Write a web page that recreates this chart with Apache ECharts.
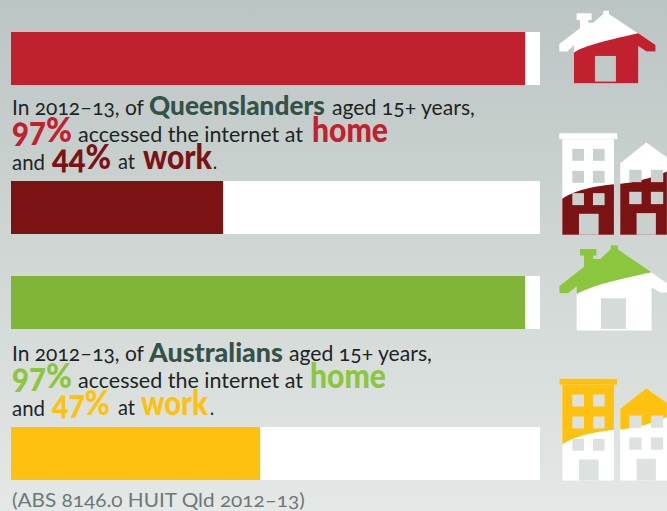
<!DOCTYPE html>
<html><head><meta charset="utf-8">
<style>html,body{margin:0;padding:0;background:#ccc}#c{width:667px;height:511px}
svg text{font-feature-settings:"onum" 1 !important}</style>
<script src="https://cdn.jsdelivr.net/npm/echarts@6/dist/echarts.min.js"></script>
</head><body><div id="c"></div>
<script>
// Bar lengths as drawn in the picture (the dark "work" bar is drawn at about 40 although its caption says 44%)
var categories = ['Queensland home', 'Queensland work', 'Australia home', 'Australia work'];
var values = [97.2, 40.1, 97.2, 47.1];
var barColors = ['#c1202f', '#7b1214', '#80b53a', '#fec10f'];
var barTops = [32, 181, 276, 427];

var FONT = 'Lato';
var INK = '#1f2423', HEAD = '#355148', RED = '#c1202f', MAR = '#7b1214', GRN = '#8cc63f', YEL = '#fec10f';
// text, x, baseline, size, weight, colour, target width
var texts = [
 ['In 2012–13, of', 12, 115, 21.5, 400, INK, 132],
 ['Queenslanders', 149, 115, 27, 900, HEAD, 176],
 ['aged 15+ years,', 332, 115, 21.5, 400, INK, 143],
 ['97%', 12, 142, 34, 900, RED, 60],
 ['accessed the internet at', 78, 142, 21.5, 400, INK, 225],
 ['home', 312, 142, 35, 900, RED, 76],
 ['and', 12, 169, 21.5, 400, INK, 33],
 ['44%', 52, 169, 34, 900, MAR, 59],
 ['at', 118, 169, 21.5, 400, INK, 17],
 ['work', 143, 169, 35, 900, MAR, 69],
 ['.', 213, 169, 21.5, 400, INK, 4],
 ['In 2012–13, of', 12, 361, 21.5, 400, INK, 132],
 ['Australians', 149, 361, 27, 900, HEAD, 134],
 ['aged 15+ years,', 289, 361, 21.5, 400, INK, 143],
 ['97%', 12, 388, 34, 900, GRN, 60],
 ['accessed the internet at', 78, 388, 21.5, 400, INK, 225],
 ['home', 310, 388, 35, 900, GRN, 76],
 ['and', 12, 415, 21.5, 400, INK, 33],
 ['47%', 52, 415, 34, 900, YEL, 58],
 ['at', 118, 415, 21.5, 400, INK, 17],
 ['work', 141, 415, 35, 900, YEL, 67],
 ['.', 210, 415, 21.5, 400, INK, 4],
 ['(ABS 8146.0 HUIT Qld 2012–13)', 12, 506, 20, 400, '#6e7878', 293]
];

var probe = document.createElement('span');
probe.style.cssText = 'position:absolute;visibility:hidden;white-space:pre;font-feature-settings:"onum" 1;font-family:' + FONT;
document.body.appendChild(probe);
function bgAt(y) {
  var t = y / 511, a = [187, 197, 195], b = [228, 232, 230];
  return 'rgb(' + a.map(function (v, i) { return Math.round(v + (b[i] - v) * t); }).join(',') + ')';
}
var textEls = texts.map(function (t) {
  probe.style.fontSize = t[3] + 'px'; probe.style.fontWeight = t[4]; probe.textContent = t[0];
  var sx = t[6] / probe.getBoundingClientRect().width;
  return { type: 'text', x: t[1], y: t[2] + 0.11 * t[3] + 0.5, scaleX: sx, originX: 0, silent: true,
    style: { text: t[0], font: t[4] + ' ' + t[3] + 'px ' + FONT, fill: t[5], textAlign: 'left', textVerticalAlign: 'bottom' } };
});

// Decorative icons, drawn in the zoomed (3x) coordinates of the picture
function rect(x0, y0, x1, y1, fill) {
  return { type: 'rect', shape: { x: x0, y: y0, width: x1 - x0, height: y1 - y0 }, style: { fill: fill }, silent: true };
}
function poly(points, fill) { return { type: 'polygon', shape: { points: points }, style: { fill: fill }, silent: true }; }
function sampleQuad(p0, c, p1) {
  var out = [];
  for (var i = 0; i <= 16; i++) {
    var t = i / 16, u = 1 - t;
    out.push([u * u * p0[0] + 2 * u * t * c[0] + t * t * p1[0], u * u * p0[1] + 2 * u * t * c[1] + t * t * p1[1]]);
  }
  return out;
}
function icons(children, yOff) {
  return { type: 'group', x: 540, y: yOff, scaleX: 1 / 3, scaleY: 1 / 3, silent: true, children: children };
}
function house1() {
  var sil = [[58,132],[120,85],[120,60],[110,60],[110,40],[155,40],[155,60],[145,60],[145,68],[160,68],[190,42],[190,32],[207,32],[207,42],[347,135],[347,155],[320,155],[295,138],[295,250],[102,250],[102,135],[82,155],[58,155]];
  var low = sampleQuad([102,158],[130,135],[295,100]).concat([[347,135],[347,155],[320,155],[295,138],[295,250],[102,250]]);
  return icons([poly(sil,'#fff'), poly(low,RED), rect(165,168,228,245,bgAt(69))], 0);
}
function house2() {
  var sil = [[58,138],[132,80],[132,47],[120,47],[120,27],[170,27],[170,47],[160,47],[160,57],[180,57],[212,28],[212,16],[234,16],[234,28],[381,130],[381,158],[362,158],[335,142],[335,272],[110,272],[110,140],[85,160],[58,160]];
  var top = sil.slice(0,14).concat([[335,97]]).concat(sampleQuad([335,97],[150,135],[110,163]).slice(1)).concat([[110,140],[85,160],[58,160]]);
  return icons([poly(sil,'#fff'), poly(top,'#8cc63f'), rect(183,175,258,267,bgAt(314))], 240);
}
function buildings(yOff, c1, lowerColoured, base) {
  var kids = [];
  var bg = bgAt(base);
  kids.push(rect(58,400,232,418,'#fff'));
  kids.push(rect(67,418,222,705,'#fff'));
  kids.push(poly([[241,490],[319,428],[381,472],[381,705],[241,705]],'#fff'));
  var a = sampleQuad([67,597],[110,565],[222,553]);
  var b = sampleQuad([241,552],[310,545],[381,515]);
  if (lowerColoured) {
    kids.push(poly(a.concat([[222,705],[67,705]]), c1));
    kids.push(poly(b.concat([[381,705],[241,705]]), c1));
  } else {
    kids.push(rect(58,400,232,418,c1));
    kids.push(poly([[67,418],[222,418]].concat(a.slice().reverse()), c1));
    kids.push(poly([[241,490],[319,428],[381,472]].concat(b.slice().reverse()), c1));
  }
  [[97,447],[159,447],[97,513],[159,513],[97,580],[159,580]].forEach(function (w) {
    kids.push(rect(w[0],w[1],w[0]+35,w[1]+36,bg));
  });
  [[268,510],[333,510],[268,576],[333,576]].forEach(function (w) {
    kids.push(rect(w[0],w[1],w[0]+37,w[1]+37,bg));
  });
  kids.push(rect(117,642,176,705,bg));
  kids.push(rect(290,640,348,705,bg));
  return icons(kids, yOff);
}

var grids = [], xAxes = [], yAxes = [], series = [];
categories.forEach(function (name, i) {
  grids.push({ left: 11, width: 529, top: barTops[i], height: 53 });
  xAxes.push({ gridIndex: i, type: 'value', min: 0, max: 100, show: false });
  yAxes.push({ gridIndex: i, type: 'category', data: [name], show: false });
  series.push({ type: 'bar', name: name, xAxisIndex: i, yAxisIndex: i, data: [values[i]], barWidth: '100%',
    showBackground: true, backgroundStyle: { color: '#fff', opacity: 1 }, itemStyle: { color: barColors[i] }, silent: true });
});

var chart = echarts.init(document.getElementById('c'), null, { renderer: 'svg', width: 667, height: 511 });
chart.setOption({
  animation: false,
  backgroundColor: { type: 'linear', x: 0, y: 0, x2: 0, y2: 1, colorStops: [{ offset: 0, color: bgAt(0) }, { offset: 1, color: bgAt(511) }] },
  grid: grids, xAxis: xAxes, yAxis: yAxes, series: series,
  graphic: { elements: textEls.concat([house1(), house2(),
    buildings(0, MAR, true, 180),
    buildings(245.67, YEL, false, 420)]) }
});
</script></body></html>
